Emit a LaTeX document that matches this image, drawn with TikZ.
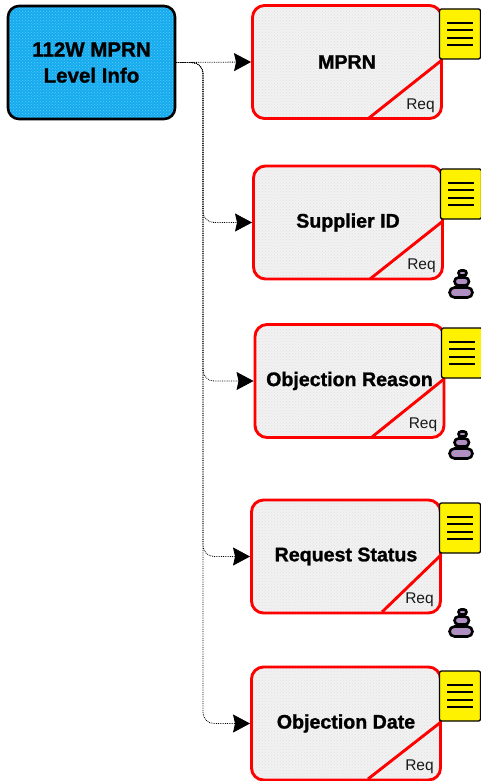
\documentclass[tikz,border=0pt]{standalone}
\usepackage{fontspec}
\setmainfont{Liberation Sans}[BoldFeatures={FakeBold=1.2}]
\usetikzlibrary{arrows.meta,patterns}
\definecolor{rootblue}{RGB}{22,170,238}
\definecolor{rootdot}{RGB}{90,205,250}
\definecolor{stonepink}{RGB}{228,120,150}
\definecolor{stoneblue}{RGB}{130,165,235}
\tikzset{
  rootbox/.style={draw=black,line width=2.6pt,rounded corners=11pt,inner sep=0pt,align=center,
    minimum width=167pt,minimum height=113pt,font=\fontsize{20.5}{26}\selectfont\bfseries,
    preaction={fill=rootblue},pattern=crosshatch dots,pattern color=rootdot},
  attrbox/.style={draw=red,line width=2.9pt,rounded corners=12pt,inner sep=0pt,
    minimum width=189pt,minimum height=113pt,font=\fontsize{19.6}{22}\selectfont\bfseries,
    preaction={fill=black!5},pattern=crosshatch dots,pattern color=black!12},
  reqline/.style={draw=red,line width=2.9pt},
  reqtext/.style={inner sep=0pt,font=\fontsize{15.5}{16}\selectfont,text=black!90},
  notebox/.style={draw=black,fill=yellow,line width=1.3pt,rounded corners=2pt,inner sep=0pt,
    minimum width=41pt,minimum height=50pt},
  noteline/.style={draw=black,line width=1.1pt},
  stone/.style={draw=black,line width=2.6pt,preaction={fill=stonepink},
    pattern=crosshatch,pattern color=stoneblue},
  link/.style={draw=black,line width=0.8pt,densely dotted,rounded corners=11pt,
    -{Stealth[length=17pt,width=18pt,inset=2pt,fill=black]}}
}
\begin{document}
\begin{tikzpicture}[x=1pt,y=-1pt]
\useasboundingbox (0,0) rectangle (481,781);
\node [rootbox] (root) at (91.5,62.5) {112W MPRN\\Level Info};
\coordinate (bus) at (203,62.5);
% attributes
\node [attrbox] (mprn) at (347,62) {\raisebox{-1pt}{MPRN}};
\node [attrbox] (supplier) at (348,222.5) {\raisebox{-1pt}{Supplier ID}};
\node [attrbox] (reason) at (349.5,381) {\raisebox{-1pt}{Objection Reason}};
\node [attrbox] (status) at (346,556.5) {\raisebox{-1pt}{Request Status}};
\node [attrbox] (date) at (346,723.5) {\raisebox{-1pt}{Objection Date}};
% corner flags
\draw [reqline] (442,60) -- (369,118);
\draw [reqline] (443,221) -- (370,279);
\draw [reqline] (444,379) -- (372,437);
\draw [reqline] (441,555) -- (382,612);
\draw [reqline] (441,722) -- (368,779);
\node [reqtext] (reqa) at (420.5,105.5) {Req};
\node [reqtext] (reqb) at (421.5,266) {Req};
\node [reqtext] (reqc) at (423,424.5) {Req};
\node [reqtext] (reqd) at (419.5,599.5) {Req};
\node [reqtext] (reqe) at (419.5,766.5) {Req};
% notes
\node [notebox] (notea) at (460,34) {};
\node [notebox] (noteb) at (461,194) {};
\node [notebox] (notec) at (462,353) {};
\node [notebox] (noted) at (460,528) {};
\node [notebox] (notee) at (460,696) {};
\draw [noteline] (447,23) -- (473,23) (447,30) -- (473,30) (447,38) -- (473,38) (447,45) -- (473,45);
\draw [noteline] (448,183) -- (474,183) (448,190) -- (474,190) (448,198) -- (474,198) (448,205) -- (474,205);
\draw [noteline] (449,342) -- (475,342) (449,349) -- (475,349) (449,357) -- (475,357) (449,364) -- (475,364);
\draw [noteline] (447,517) -- (473,517) (447,524) -- (473,524) (447,532) -- (473,532) (447,539) -- (473,539);
\draw [noteline] (447,685) -- (473,685) (447,692) -- (473,692) (447,700) -- (473,700) (447,707) -- (473,707);
% stacks
\draw [stone,rounded corners=2.5pt] (458.5,270.5) rectangle (466.5,275.5);
\draw [stone,rounded corners=4pt] (454.5,277.5) rectangle (469,285.5);
\draw [stone,rounded corners=5pt] (449.5,287.5) rectangle (472.5,297.5);
\draw [stone,rounded corners=2.5pt] (458.5,431.5) rectangle (466.5,436.5);
\draw [stone,rounded corners=4pt] (454.5,438.5) rectangle (469,446.5);
\draw [stone,rounded corners=5pt] (449.5,448.5) rectangle (472.5,458.5);
\draw [stone,rounded corners=2.5pt] (458.5,609.5) rectangle (466.5,614.5);
\draw [stone,rounded corners=4pt] (454.5,616.5) rectangle (469,624.5);
\draw [stone,rounded corners=5pt] (449.5,626.5) rectangle (472.5,636.5);
% links
\draw [link] (root.east) -- (mprn.west);
\draw [link] (root.east) -- (bus) |- (supplier.west);
\draw [link] (root.east) -- (bus) |- (reason.west);
\draw [link] (root.east) -- (bus) |- (status.west);
\draw [link] (root.east) -- (bus) |- (date.west);
\end{tikzpicture}
\end{document}
